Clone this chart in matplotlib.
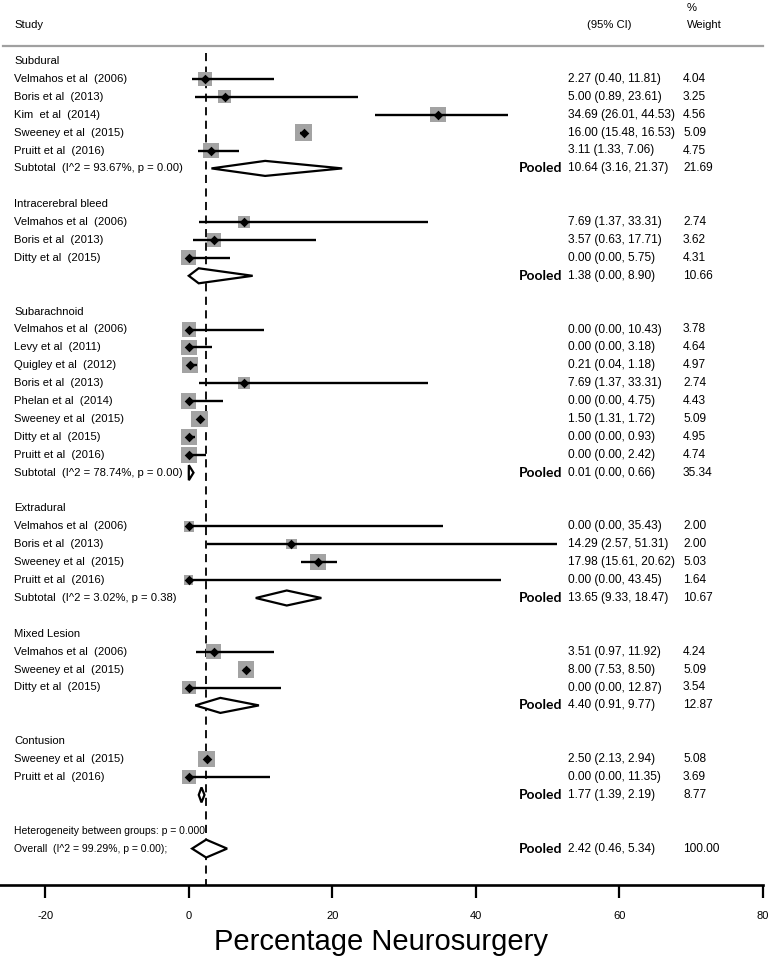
import matplotlib
matplotlib.use("Agg")
import matplotlib.pyplot as plt
import matplotlib.transforms as mtransforms
from matplotlib.patches import Polygon
import numpy as np

plt.rcParams['font.family'] = ['Liberation Sans', 'DejaVu Sans']

# ---------------- data ----------------
groups = ["Subdural", "Intracerebral bleed", "Subarachnoid", "Extradural", "Mixed Lesion", "Contusion"]

subdural_studies = ["Velmahos et al  (2006)", "Boris et al  (2013)", "Kim  et al  (2014)",
                    "Sweeney et al  (2015)", "Pruitt et al  (2016)"]
subdural_est = [2.27, 5.00, 34.69, 16.00, 3.11]
subdural_lo = [0.40, 0.89, 26.01, 15.48, 1.33]
subdural_hi = [11.81, 23.61, 44.53, 16.53, 7.06]
subdural_w = [4.04, 3.25, 4.56, 5.09, 4.75]
subdural_pool = (10.64, 3.16, 21.37, 21.69)
subdural_label = "Subtotal  (I^2 = 93.67%, p = 0.00)"

ich_studies = ["Velmahos et al  (2006)", "Boris et al  (2013)", "Ditty et al  (2015)"]
ich_est = [7.69, 3.57, 0.00]
ich_lo = [1.37, 0.63, 0.00]
ich_hi = [33.31, 17.71, 5.75]
ich_w = [2.74, 3.62, 4.31]
ich_pool = (1.38, 0.00, 8.90, 10.66)
ich_label = ""

sah_studies = ["Velmahos et al  (2006)", "Levy et al  (2011)", "Quigley et al  (2012)",
               "Boris et al  (2013)", "Phelan et al  (2014)", "Sweeney et al  (2015)",
               "Ditty et al  (2015)", "Pruitt et al  (2016)"]
sah_est = [0.00, 0.00, 0.21, 7.69, 0.00, 1.50, 0.00, 0.00]
sah_lo = [0.00, 0.00, 0.04, 1.37, 0.00, 1.31, 0.00, 0.00]
sah_hi = [10.43, 3.18, 1.18, 33.31, 4.75, 1.72, 0.93, 2.42]
sah_w = [3.78, 4.64, 4.97, 2.74, 4.43, 5.09, 4.95, 4.74]
sah_pool = (0.01, 0.00, 0.66, 35.34)
sah_label = "Subtotal  (I^2 = 78.74%, p = 0.00)"

edh_studies = ["Velmahos et al  (2006)", "Boris et al  (2013)", "Sweeney et al  (2015)",
               "Pruitt et al  (2016)"]
edh_est = [0.00, 14.29, 17.98, 0.00]
edh_lo = [0.00, 2.57, 15.61, 0.00]
edh_hi = [35.43, 51.31, 20.62, 43.45]
edh_w = [2.00, 2.00, 5.03, 1.64]
edh_pool = (13.65, 9.33, 18.47, 10.67)
edh_label = "Subtotal  (I^2 = 3.02%, p = 0.38)"

mixed_studies = ["Velmahos et al  (2006)", "Sweeney et al  (2015)", "Ditty et al  (2015)"]
mixed_est = [3.51, 8.00, 0.00]
mixed_lo = [0.97, 7.53, 0.00]
mixed_hi = [11.92, 8.50, 12.87]
mixed_w = [4.24, 5.09, 3.54]
mixed_pool = (4.40, 0.91, 9.77, 12.87)
mixed_label = ""

cont_studies = ["Sweeney et al  (2015)", "Pruitt et al  (2016)"]
cont_est = [2.50, 0.00]
cont_lo = [2.13, 0.00]
cont_hi = [2.94, 11.35]
cont_w = [5.08, 3.69]
cont_pool = (1.77, 1.39, 2.19, 8.77)
cont_label = ""

overall_pool = (2.42, 0.46, 5.34, 100.00)
overall_label = "Overall  (I^2 = 99.29%, p = 0.00);"
heterogeneity_label = "Heterogeneity between groups: p = 0.000"

x_ticks = [-20, 0, 20, 40, 60, 80]
x_label = "Percentage Neurosurgery"

group_data = [
    (subdural_studies, subdural_est, subdural_lo, subdural_hi, subdural_w, subdural_pool, subdural_label),
    (ich_studies, ich_est, ich_lo, ich_hi, ich_w, ich_pool, ich_label),
    (sah_studies, sah_est, sah_lo, sah_hi, sah_w, sah_pool, sah_label),
    (edh_studies, edh_est, edh_lo, edh_hi, edh_w, edh_pool, edh_label),
    (mixed_studies, mixed_est, mixed_lo, mixed_hi, mixed_w, mixed_pool, mixed_label),
    (cont_studies, cont_est, cont_lo, cont_hi, cont_w, cont_pool, cont_label),
]

# ---------------- layout ----------------
W, H = 771, 961
fig = plt.figure(figsize=(W / 100, H / 100), dpi=100)
row0_px, row_px = 61.0, 17.9
axis_px = 885.0
ax = fig.add_axes([0, (H - axis_px) / H, 763 / W, axis_px / H])
ax.set_xlim(-26.3, 80)
ax.set_ylim((axis_px - row0_px) / row_px, -row0_px / row_px)

for s in ["top", "left", "right"]:
    ax.spines[s].set_visible(False)
ax.spines["bottom"].set_linewidth(1.9)
ax.set_yticks([])
ax.set_xticks(x_ticks)
ax.set_xticklabels([str(t) for t in x_ticks], fontsize=8)
ax.tick_params(axis="x", direction="out", length=9.5, width=1.6, pad=9)

trans = mtransforms.blended_transform_factory(fig.transFigure, ax.transData)
def fx(px):
    return px / W

label_x, ci_x, wt_x, pooled_x = 14, 568, 683, 562
fs = 8.1
fs_num = 8.6
sq_col = "#a3a3a3"
px_per_pt = 100 / 72.0

def draw_diamond(est, lo, hi, r, half=0.42):
    poly = Polygon([[lo, r], [est, r - half], [hi, r], [est, r + half]], closed=True,
                   facecolor="white", edgecolor="black", linewidth=1.6, zorder=4)
    ax.add_patch(poly)

def fmt(e, l, h):
    return f"{e:.2f} ({l:.2f}, {h:.2f})"

row = 0
for gname, (studies, est, lo, hi, w, pool, plabel) in zip(groups, group_data):
    ax.text(fx(label_x), row, gname, transform=trans, fontsize=fs, va="center", ha="left")
    row += 1
    rows = np.arange(row, row + len(studies))
    ax.hlines(rows, lo, hi, color="black", linewidth=1.7, zorder=3)
    sides = [(7.3 * np.sqrt(wi) / px_per_pt) ** 2 for wi in w]
    ax.scatter(est, rows, s=sides, marker="s", color=sq_col, zorder=2, linewidths=0)
    ax.scatter(est, rows, s=24, marker="D", color="black", zorder=5, linewidths=0)
    for r, name, e, l, h, wi in zip(rows, studies, est, lo, hi, w):
        ax.text(fx(label_x), r, name, transform=trans, fontsize=fs, va="center", ha="left")
        ax.text(fx(ci_x), r, fmt(e, l, h), transform=trans, fontsize=fs_num, va="center", ha="left")
        ax.text(fx(wt_x), r, f"{wi:.2f}", transform=trans, fontsize=fs_num, va="center", ha="left")
    row += len(studies)
    pe, pl, ph, pw = pool
    draw_diamond(pe, pl, ph, row)
    if plabel:
        ax.text(fx(label_x), row, plabel, transform=trans, fontsize=fs, va="center", ha="left")
    ax.text(fx(pooled_x), row, "Pooled", transform=trans, fontsize=10, fontweight="bold",
            family=["Lato", "DejaVu Sans"], va="center", ha="right")
    ax.text(fx(ci_x), row, fmt(pe, pl, ph), transform=trans, fontsize=fs_num, va="center", ha="left")
    ax.text(fx(wt_x), row, f"{pw:.2f}", transform=trans, fontsize=fs_num, va="center", ha="left")
    row += 2

# heterogeneity and overall
ax.text(fx(label_x), row, heterogeneity_label, transform=trans, fontsize=7.5, va="center", ha="left")
row += 1
oe, ol, oh, ow = overall_pool
draw_diamond(oe, ol, oh, row, half=0.5)
ax.text(fx(label_x), row, overall_label, transform=trans, fontsize=7.5, va="center", ha="left")
ax.text(fx(pooled_x), row, "Pooled", transform=trans, fontsize=10, fontweight="bold",
        family=["Lato", "DejaVu Sans"], va="center", ha="right")
ax.text(fx(ci_x), row, fmt(oe, ol, oh), transform=trans, fontsize=fs_num, va="center", ha="left")
ax.text(fx(wt_x), row, f"{ow:.2f}", transform=trans, fontsize=fs_num, va="center", ha="left")

# dashed overall line
ax.vlines(oe, -0.45, ax.get_ylim()[0], color="black", linewidth=1.3,
          linestyles=(0, (4.5, 3)), zorder=1)

# header
hdr_y = (25 - row0_px) / row_px
ax.text(fx(14), hdr_y, "Study", transform=trans, fontsize=fs, va="center", ha="left")
ax.text(fx(587), hdr_y, "(95% CI)", transform=trans, fontsize=fs, va="center", ha="left")
ax.text(fx(687), hdr_y, "Weight", transform=trans, fontsize=fs, va="center", ha="left")
ax.text(fx(687), (8 - row0_px) / row_px, "%", transform=trans, fontsize=fs, va="center", ha="left")
line_y = (46 - row0_px) / row_px
ax.plot([fx(3), fx(763)], [line_y, line_y], transform=trans, color="#a0a0a0", linewidth=1.6,
        clip_on=False)

# x label
fig.text(381 / W, 1 - 942 / H, x_label, fontsize=21, ha="center", va="center")

fig.savefig("out.png", dpi=100)
